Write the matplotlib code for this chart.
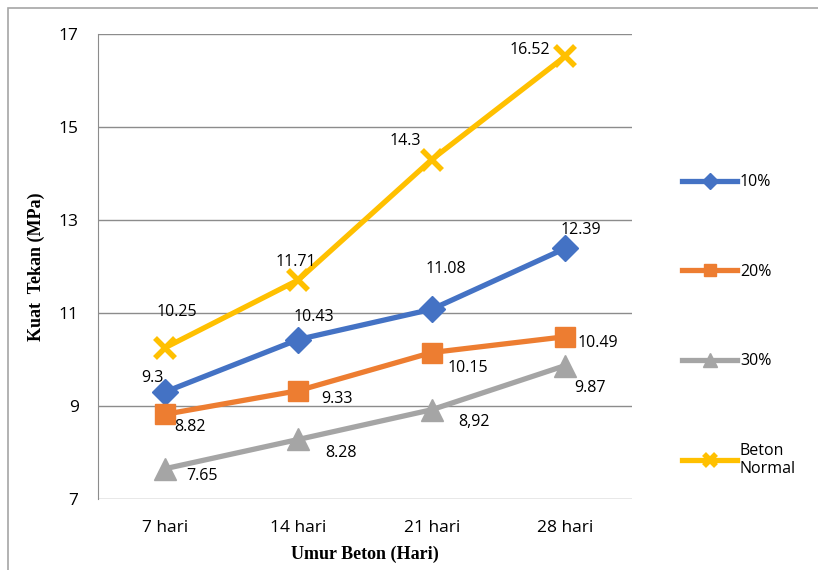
import matplotlib
matplotlib.use("Agg")
import matplotlib.pyplot as plt
from matplotlib.patches import Rectangle

categories = ["7 hari", "14 hari", "21 hari", "28 hari"]
s10 = [9.3, 10.43, 11.08, 12.39]
s20 = [8.82, 9.33, 10.15, 10.49]
s30 = [7.65, 8.28, 8.92, 9.87]
normal = [10.25, 11.71, 14.3, 16.52]
labels10 = ["9.3", "10.43", "11.08", "12.39"]
labels20 = ["8.82", "9.33", "10.15", "10.49"]
labels30 = ["7.65", "8.28", "8,92", "9.87"]
labelsN = ["10.25", "11.71", "14.3", "16.52"]
yticks = [7, 9, 11, 13, 15, 17]

W, H = 818, 570
fig = plt.figure(figsize=(W/100, H/100), dpi=100)
ax = fig.add_axes([98/W, 1-499/H, (632-98)/W, (499-34)/H])

fig.patches.append(Rectangle((8/W, -0.1), 1.2, 1-8/H+0.1, transform=fig.transFigure,
                             fill=False, edgecolor="#a6a6a6", linewidth=1.2))

x = list(range(len(categories)))
font = "Open Sans"
c10, c20, c30, cN = "#4472C4", "#ED7D31", "#A5A5A5", "#FFC000"
lw = 3.8
ax.plot(x, normal, color=cN, lw=lw, marker="x", ms=14, mew=4, label="Beton\nNormal", zorder=3)
ax.plot(x, s10, color=c10, lw=lw, marker="D", ms=13, label="10%", zorder=4)
ax.plot(x, s20, color=c20, lw=lw, marker="s", ms=15, label="20%", zorder=4)
ax.plot(x, s30, color=c30, lw=lw, marker="^", ms=16, label="30%", zorder=4)

ax.set_xlim(-0.5, 3.5)
ax.set_ylim(7, 17)
ax.set_yticks(yticks)
ax.set_xticks(x)
ax.set_xticklabels(categories, fontsize=12.5, family=font)
for t in ax.get_yticklabels():
    t.set_fontsize(12.5); t.set_family(font)
ax.tick_params(axis="y", length=0, pad=14)
ax.tick_params(axis="x", length=0, pad=15)
ax.grid(axis="y", color="#8c8c8c", lw=1)
ax.set_axisbelow(True)
for s in ["top", "right", "bottom"]:
    ax.spines[s].set_visible(False)
ax.spines["left"].set_color("#8c8c8c")

ax.set_ylabel("Kuat  Tekan (MPa)", fontsize=13, fontweight="bold", family="Liberation Serif", labelpad=10)
ax.set_xlabel("Umur Beton (Hari)", fontsize=13, fontweight="bold", family="Liberation Serif", labelpad=7)

fs = 11.5
def lab(xi, yi, txt, dx, dy):
    ax.annotate(txt, (xi, yi), xytext=(dx, dy), textcoords="offset pixels",
                ha="center", va="center", fontsize=fs, family=font, zorder=5)

# 10%
lab(0, s10[0], labels10[0], -12, 14)
lab(1, s10[1], labels10[1], 16, 23)
lab(2, s10[2], labels10[2], 14, 40)
lab(3, s10[3], labels10[3], 16, 18)
# 20%
lab(0, s20[0], labels20[0], 25, -13)
lab(1, s20[1], labels20[1], 39, -8)
lab(2, s20[2], labels20[2], 36, -15)
lab(3, s20[3], labels20[3], 33, -6)
# 30%
lab(0, s30[0], labels30[0], 37, -7)
lab(1, s30[1], labels30[1], 43, -14)
lab(2, s30[2], labels30[2], 42, -12)
lab(3, s30[3], labels30[3], 25, -22)
# normal
lab(0, normal[0], labelsN[0], 12, 36)
lab(1, normal[1], labelsN[1], -2, 18)
lab(2, normal[2], labelsN[2], -26, 19)
lab(3, normal[3], labelsN[3], -35, 6)

h, l = ax.get_legend_handles_labels()
order = [1, 2, 3, 0]
leg = fig.legend([h[i] for i in order], [l[i] for i in order], loc="upper left",
                 bbox_to_anchor=(668/W, 1-160/H), frameon=False, labelspacing=4.6,
                 handlelength=3.4, handletextpad=0.2, markerscale=0.6,
                 prop={"family": font, "size": 11.5})

fig.savefig("out.png", dpi=100, facecolor="white")
